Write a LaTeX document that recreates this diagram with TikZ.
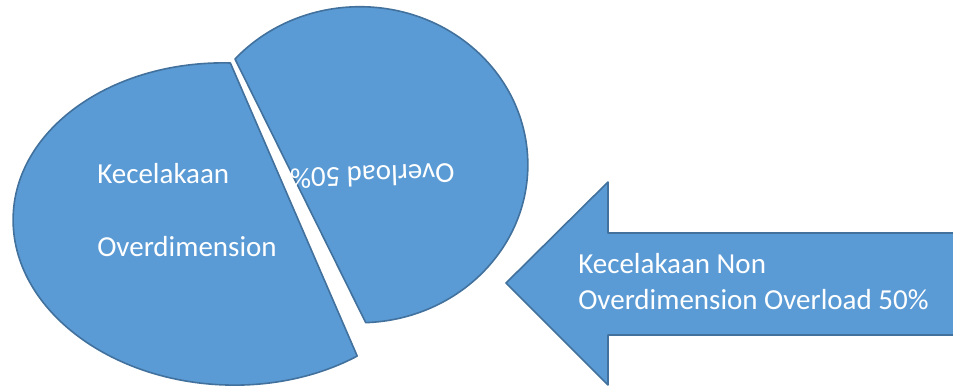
\documentclass[tikz,border=0pt]{standalone}
\usepackage{fontspec}
\setmainfont{Carlito}
\definecolor{piefill}{HTML}{5B9BD5}
\definecolor{pieline}{HTML}{41719C}
\tikzset{
  piece/.style={fill=piefill, draw=pieline, line width=1.2pt, line join=round},
  lbl/.style={text=white, font=\fontsize{21.75}{27}\selectfont, inner sep=0pt}
}
\begin{document}
\begin{tikzpicture}[x=0.75pt,y=-0.75pt]
\clip (0,0) rectangle (953,387);
% left piece
\begin{scope}[shift={(229,224)}, rotate=-2.5]
\draw[piece] (268.5:216 and 161) arc[start angle=268.5, end angle=51.7, x radius=216, y radius=161] -- cycle;
\end{scope}
% right piece
\draw[piece] (235,59) arc[start angle=222, end angle=448, x radius=168, y radius=158] -- cycle;
% arrow
\draw[piece] (506,283) -- (608,182) -- (608,233) -- (962,233) -- (962,335) -- (608,335) -- (608,385) -- cycle;
% labels
\node[lbl, anchor=base west] (kec) at (97,183) {Kecelakaan};
\node[lbl, anchor=base west] (ovd) at (97,256) {Overdimension};
\node[lbl, anchor=base, rotate=182] (ovl) at (372,166) {Overload 50\%};
\node[lbl, anchor=base west] (arr1) at (578,273) {Kecelakaan Non};
\node[lbl, anchor=base west] (arr2) at (578,309) {Overdimension Overload 50\%};
\end{tikzpicture}
\end{document}
